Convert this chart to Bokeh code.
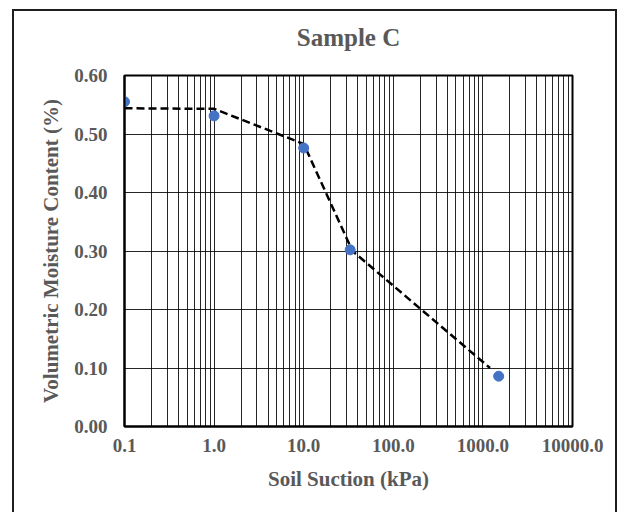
from bokeh.plotting import figure
from bokeh.models import Range1d, FixedTicker, NumeralTickFormatter, Title
from bokeh.embed import file_html
from bokeh.resources import INLINE

# ---- data ----
suction_kpa = [0.1, 1.0, 10.0, 33.0, 1500.0]
moisture = [0.555, 0.531, 0.476, 0.302, 0.086]

fit_suction_kpa = [0.1, 1.0, 10.0, 35.0, 1200.0]
fit_moisture = [0.544, 0.543, 0.483, 0.300, 0.100]

x_ticks = [0.1, 1, 10, 100, 1000, 10000]
x_tick_labels = ["0.1", "1.0", "10.0", "100.0", "1000.0", "10000.0"]
y_ticks = [0.0, 0.1, 0.2, 0.3, 0.4, 0.5, 0.6]

title_text = "Sample C"
x_label = "Soil Suction (kPa)"
y_label = "Volumetric Moisture Content (%)"

FONT = "Liberation Serif"
GREY = "#595959"

p = figure(
    width=605, height=507,
    x_axis_type="log",
    x_range=Range1d(0.1, 10000), y_range=Range1d(0, 0.6),
    output_backend="svg", toolbar_location=None,
    min_border_left=110, min_border_right=47,
    min_border_top=64, min_border_bottom=92,
)
p.styles = {"border": "2px solid #1e1e1e", "margin-left": "12px", "margin-top": "9px"}

p.title.text = title_text
p.title.text_font = FONT
p.title.text_font_size = "25px"
p.title.text_font_style = "bold"
p.title.text_color = GREY
p.title.align = "center"
p.title.standoff = 14

# thin empty spacer between title and plot frame
p.add_layout(Title(text=" ", text_font_size="2px", standoff=14), "above")

p.outline_line_color = "black"
p.outline_line_width = 2

minor = [m * t for t in x_ticks[:-1] for m in range(2, 10)]
p.xaxis.ticker = FixedTicker(ticks=x_ticks, minor_ticks=minor)
p.xaxis.major_label_overrides = {t: lab for t, lab in zip(x_ticks, x_tick_labels)}
p.yaxis.ticker = FixedTicker(ticks=y_ticks)
p.yaxis.formatter = NumeralTickFormatter(format="0.00")

for ax in (p.xaxis, p.yaxis):
    ax.axis_line_color = "black"
    ax.axis_line_width = 2
    ax.major_tick_line_color = None
    ax.minor_tick_line_color = None
    ax.major_tick_in = 0
    ax.major_tick_out = 0
    ax.minor_tick_in = 0
    ax.minor_tick_out = 0
    ax.major_label_text_font = FONT
    ax.major_label_text_font_size = "19px"
    ax.major_label_text_font_style = "bold"
    ax.major_label_text_color = GREY
    ax.axis_label_text_font = FONT
    ax.axis_label_text_font_size = "21px"
    ax.axis_label_text_font_style = "bold"
    ax.axis_label_text_color = GREY

p.xaxis.axis_label = x_label
p.yaxis.axis_label = y_label
p.xaxis.major_label_standoff = 12
p.xaxis.axis_label_standoff = 12
p.yaxis.major_label_standoff = 17
p.yaxis.axis_label_standoff = 8

p.xgrid.grid_line_color = "black"
p.xgrid.grid_line_alpha = 0.85
p.xgrid.minor_grid_line_color = "black"
p.xgrid.minor_grid_line_alpha = 0.85
p.ygrid.grid_line_color = "black"
p.ygrid.grid_line_alpha = 0.85

p.line(fit_suction_kpa, fit_moisture, line_color="black", line_width=2.5,
       line_dash="8 4")
p.scatter(suction_kpa, moisture, size=10, fill_color="#4472C4",
          line_color="#4472C4")

open("out.html", "w").write(file_html(p, INLINE))
